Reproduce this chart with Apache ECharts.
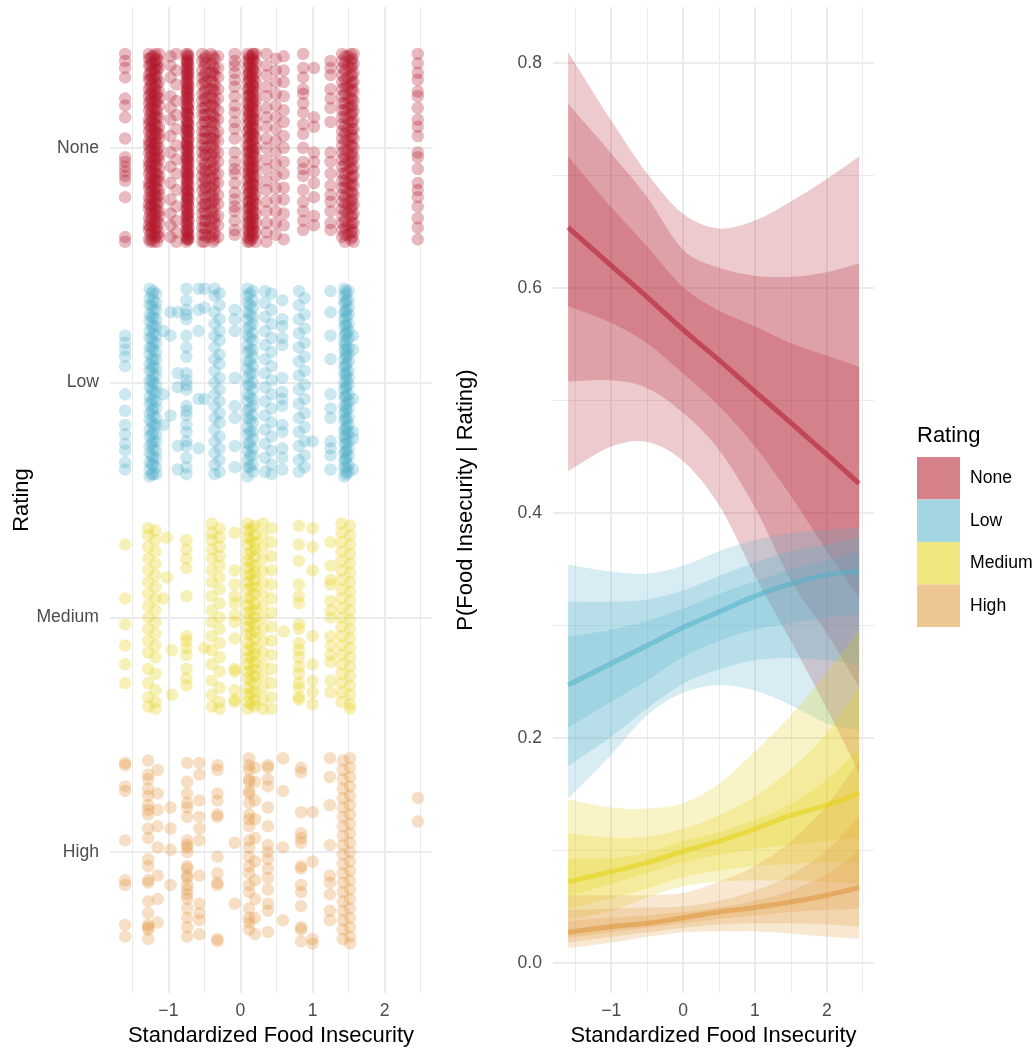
<!DOCTYPE html>
<html><head><meta charset="utf-8">
<script src="https://cdn.jsdelivr.net/npm/echarts@6/dist/echarts.min.js"></script>
<style>html,body{margin:0;padding:0;background:#fff}#c{width:1035px;height:1048px}</style>
</head><body><div id="c"></div><script>
// ---------- data ----------
const ratingLevels = ['High', 'Medium', 'Low', 'None']; // rating positions 1..4 on the left panel
const xTickValues = [-1, 0, 1, 2];
const xMinorValues = [-1.5, -0.5, 0.5, 1.5, 2.5];
const pTickValues = [0, 0.2, 0.4, 0.6, 0.8];
const pMinorValues = [0.1, 0.3, 0.5, 0.7];

// jittered observations: [food insecurity, [vertical jitter in hundredths of a rating step]]
const obsNone = [
  [-1.60, [40,37,34,30,21,18,13,4,-4,-6,-8,-10,-12,-14,-21,-38,-40]],
  [-1.27, [40,38,35,31,29,25,22,19,16,12,10,7,3,1,-2,-6,-8,-11,-15,-17,-21,-24,-26,-30,-33,-35,-39]],
  [-1.25, [38,35,32,29,26,23,20,17,14,11,8,5,2,-1,-4,-7,-10,-13,-16,-19,-22,-25,-28,-31,-34,-37,-40]],
  [-1.23, [39,36,33,30,27,24,21,18,15,12,9,6,3,0,-3,-6,-9,-12,-15,-18,-21,-24,-27,-30,-33,-36,-39]],
  [-1.20, [39,36,33,30,26,23,20,17,14,11,8,5,2,-1,-4,-7,-10,-13,-16,-19,-22,-25,-28,-31,-34,-37,-40]],
  [-1.18, [40,37,34,31,28,25,22,19,16,13,10,7,4,1,-2,-5,-8,-11,-14,-17,-20,-23,-26,-29,-32,-35,-38]],
  [-1.16, [38,35,33,30,27,23,20,16,13,9,6,2,-1,-4,-7,-11,-14,-17,-21,-24,-27,-31,-34,-37,-40]],
  [-1.13, [40,37,34,28,24,21,18,13,9,6,4,0,-3,-5,-9,-12,-14,-18,-20,-23,-27,-29,-32,-36,-38]],
  [-0.97, [39,35,30,22,17,12,5,-2,-8,-15,-22,-28,-33,-38]],
  [-0.89, [40,33,27,20,14,8,1,-5,-11,-18,-25,-31,-36,-40]],
  [-0.75, [40,37,34,31,28,24,21,18,15,12,9,6,2,-1,-4,-7,-10,-14,-17,-20,-23,-26,-29,-32,-35,-38,-40]],
  [-0.74, [39,36,32,29,25,22,18,15,11,8,5,1,-2,-5,-9,-12,-16,-19,-22,-26,-29,-33,-36,-39]],
  [-0.735, [38,36,33,30,27,25,23,20,17,14,11,8,5,3,1,-2,-5,-8,-11,-13,-15,-18,-21,-24,-27,-30,-33,-36,-39]],
  [-0.73, [40,37,34,31,27,24,21,17,14,10,7,3,0,-4,-7,-11,-14,-18,-21,-24,-28,-31,-35,-38]],
  [-0.72, [39,35,32,29,26,22,19,16,13,10,7,4,0,-3,-6,-9,-12,-16,-19,-22,-25,-28,-31,-34,-37,-39]],
  [-0.53, [40,37,33,30,27,23,20,17,14,10,7,4,1,-2,-5,-9,-12,-15,-18,-22,-25,-28,-31,-34,-37,-40]],
  [-0.50, [38,35,31,28,24,21,17,14,11,7,4,0,-3,-7,-10,-13,-17,-20,-24,-27,-31,-34,-37,-40]],
  [-0.48, [39,36,32,28,25,21,18,14,11,7,4,0,-3,-7,-10,-14,-17,-21,-24,-28,-31,-35,-38]],
  [-0.41, [40,36,32,29,25,22,18,15,11,8,4,1,-3,-6,-10,-13,-17,-20,-24,-27,-31,-34,-38]],
  [-0.38, [39,35,32,28,25,21,18,14,11,7,4,1,-2,-6,-9,-13,-16,-20,-23,-27,-30,-34,-37,-40]],
  [-0.36, [38,34,31,27,24,20,17,13,10,6,3,-1,-4,-8,-11,-15,-18,-22,-25,-29,-32,-36,-39]],
  [-0.31, [39,34,30,25,21,16,12,7,3,-2,-6,-11,-15,-20,-24,-29,-33,-38]],
  [-0.08, [40,37,35,32,29,26,22,18,15,11,8,4,-2,-6,-9,-11,-15,-19,-22,-25,-27,-31,-35,-37]],
  [0.10, [40,37,34,31,28,25,22,19,16,13,10,7,4,1,-2,-5,-8,-11,-14,-17,-20,-23,-26,-29,-32,-35,-38,-40]],
  [0.12, [39,36,32,29,25,22,18,15,12,8,5,1,-2,-6,-9,-12,-16,-19,-23,-26,-30,-33,-36,-39]],
  [0.13, [38,35,32,29,26,23,20,17,14,11,8,5,2,-1,-4,-7,-10,-13,-16,-19,-22,-25,-28,-31,-34,-37,-40]],
  [0.16, [39,36,33,30,27,24,21,18,15,12,9,6,3,0,-3,-6,-9,-12,-15,-18,-21,-24,-27,-30,-33,-36,-39]],
  [0.17, [40,38,34,31,27,24,20,17,13,10,6,3,-1,-4,-8,-11,-15,-18,-22,-25,-29,-32,-35,-38]],
  [0.18, [40,37,33,29,26,22,19,15,12,8,5,1,-2,-6,-9,-13,-16,-20,-23,-27,-30,-34,-37]],
  [0.21, [40,36,32,28,24,20,16,12,8,4,0,-4,-8,-12,-16,-20,-24,-28,-32,-36,-40]],
  [0.36, [40,35,31,26,22,17,13,9,4,0,-5,-9,-14,-18,-23,-27,-32,-36,-40]],
  [0.49, [38,33,28,23,18,13,8,3,-2,-7,-12,-17,-22,-27,-32,-37]],
  [0.60, [39,33,28,22,16,11,5,0,-6,-11,-17,-22,-28,-33,-39]],
  [0.87, [40,34,30,25,23,19,15,10,6,0,-6,-9,-12,-18,-23,-27,-31,-35]],
  [1.02, [34,13,9,-2,-6,-10,-15,-21,-29,-33]],
  [1.25, [37,34,31,25,21,17,11,-2,-6,-11,-16,-20,-23,-27,-32,-35]],
  [1.41, [40,37,34,31,28,25,22,19,16,13,10,7,4,1,-2,-5,-8,-11,-14,-17,-20,-23,-26,-29,-32,-35,-38]],
  [1.45, [39,36,33,29,26,23,19,16,13,9,6,3,-1,-4,-7,-11,-14,-17,-21,-24,-27,-31,-34,-37,-40]],
  [1.49, [39,35,30,26,21,17,12,8,3,-1,-6,-10,-15,-19,-24,-28,-33,-37]],
  [1.53, [40,37,34,31,27,24,21,17,14,11,7,4,1,-3,-6,-9,-13,-16,-19,-23,-26,-29,-33,-36,-39]],
  [1.55, [38,35,31,28,25,21,18,15,11,8,5,1,-2,-5,-9,-12,-15,-19,-22,-25,-29,-32,-35,-38]],
  [1.57, [40,36,32,28,24,20,16,12,8,4,0,-4,-8,-12,-16,-20,-24,-28,-32,-36,-40]],
  [2.46, [40,36,32,29,24,22,17,12,9,5,-2,-4,-9,-15,-18,-21,-25,-30,-34,-39]]
];
const obsLow = [
  [-1.60, [20,17,14,11,7,-5,-12,-18,-22,-26,-29,-34,-37]],
  [-1.26, [40,36,33,29,26,22,19,15,12,8,5,1,-2,-6,-9,-13,-16,-20,-23,-27,-30,-34,-37,-40]],
  [-1.23, [38,33,28,24,19,15,10,6,1,-3,-8,-12,-17,-22,-26,-31,-35,-39]],
  [-1.21, [39,35,31,28,24,21,17,14,10,7,3,0,-4,-7,-11,-14,-18,-21,-25,-28,-32,-35,-39]],
  [-1.17, [38,34,31,27,24,20,17,13,10,6,3,-1,-4,-8,-11,-15,-18,-22,-25,-29,-32,-36,-39]],
  [-1.07, [22,-5,-18]],
  [-0.97, [30,20,-14]],
  [-0.87, [30,4,-2,-27,-37]],
  [-0.75, [40,35,31,29,27,20,15,11,4,1,-1,-3,-10,-12,-14,-18,-21,-25,-27,-32,-36,-39]],
  [-0.58, [40,31,22,-7,-28]],
  [-0.50, [40,32,-7]],
  [-0.36, [40,37,30,25,20,15,10,5,0,-5,-10,-15,-20,-25,-30,-35,-39]],
  [-0.29, [38,33,27,22,18,12,8,2,-3,-8,-13,-17,-23,-28,-33,-38]],
  [-0.08, [31,27,22,2,-10,-15,-27,-36]],
  [0.10, [40,37,34,30,27,23,20,16,13,9,6,2,-1,-5,-8,-12,-15,-19,-22,-26,-29,-33,-36,-40]],
  [0.13, [38,33,29,24,19,14,9,4,-1,-6,-11,-16,-21,-26,-31,-36]],
  [0.17, [39,35,32,28,25,21,18,14,11,7,4,0,-3,-7,-10,-14,-17,-21,-24,-28,-31,-35,-38]],
  [0.34, [39,34,28,22,16,10,4,-2,-8,-14,-20,-26,-32,-38]],
  [0.43, [38,31,25,19,13,7,1,-5,-11,-17,-23,-29,-35,-39]],
  [0.58, [35,27,24,19,16,2,-4,-7,-10,-18,-21,-28,-32,-37]],
  [0.81, [39,33,27,21,15,9,3,-3,-9,-15,-21,-27,-33,-38]],
  [0.89, [36,29,23,17,11,5,-1,-7,-13,-19,-25,-31,-36]],
  [1.00, [-25]],
  [1.25, [39,30,20,10,-5,-11,-15,-25,-28,-31,-37]],
  [1.44, [40,37,34,30,27,24,20,17,14,10,7,4,0,-3,-6,-10,-13,-16,-20,-23,-26,-30,-33,-36,-40]],
  [1.46, [39,34,30,25,21,16,12,7,3,-2,-6,-11,-15,-20,-24,-29,-33,-38]],
  [1.47, [38,35,31,28,24,21,18,14,11,8,4,1,-2,-6,-9,-12,-16,-19,-22,-26,-29,-32,-36,-39]],
  [1.50, [39,35,32,29,25,22,19,15,12,9,5,2,-1,-5,-8,-11,-15,-18,-21,-25,-28,-31,-35,-38]],
  [1.56, [20,14,-7,-21,-24,-37]]
];
const obsMedium = [
  [-1.60, [31,8,-3,-12,-20,-28]],
  [-1.28, [38,35,30,25,20,15,10,5,0,-5,-10,-15,-22,-28,-34,-38]],
  [-1.18, [37,33,28,23,18,13,8,3,-2,-7,-12,-17,-24,-31,-36,-39]],
  [-1.07, [8]],
  [-1.02, [34,17]],
  [-0.95, [-14,-33]],
  [-0.75, [33,29,25,21,9,-8,-10,-13,-16,-22,-26,-29]],
  [-0.50, [-13]],
  [-0.40, [40,36,33,29,25,20,15,9,3,-2,-8,-14,-20,-27,-33,-38]],
  [-0.29, [38,34,30,26,22,17,12,6,0,-5,-11,-17,-23,-30,-36,-39]],
  [-0.08, [36,20,14,9,6,1,-2,-9,-22,-23,-31,-35,-36]],
  [0.10, [40,37,34,31,27,24,21,18,15,12,8,5,2,-1,-4,-7,-11,-14,-17,-20,-23,-26,-30,-33,-36,-39]],
  [0.15, [38,33,28,23,18,13,8,3,-2,-7,-12,-17,-22,-27,-32,-37]],
  [0.20, [39,35,32,29,26,22,19,16,13,10,6,3,0,-3,-6,-9,-13,-16,-19,-22,-25,-28,-32,-35,-38]],
  [0.31, [40,35,30,25,20,15,10,5,0,-5,-10,-15,-20,-25,-30,-35,-39]],
  [0.43, [38,32,26,20,14,8,2,-4,-10,-16,-22,-28,-34,-39]],
  [0.60, [-6]],
  [0.81, [39,31,24,14,9,6,-3,-5,-11,-14,-17,-21,-24,-28,-30,-34,-35]],
  [1.00, [38,30,20,-8,-20,-27,-32,-37]],
  [1.25, [32,22,16,14,7,3,0,-8,-12,-16,-19,-27,-32]],
  [1.40, [40,36,32,28,24,20,16,12,8,4,0,-4,-8,-12,-16,-20,-24,-28,-32,-36]],
  [1.52, [39,35,31,27,23,19,15,11,7,3,-1,-5,-9,-13,-17,-21,-25,-29,-33,-37,-39]]
];
const obsHigh = [
  [-1.60, [38,37,28,26,5,-12,-14,-31,-36]],
  [-1.28, [39,33,31,27,24,20,18,16,10,6,-3,-6,-12,-13,-21,-26,-31,-32,-33,-37]],
  [-1.15, [35,25,18,11,2,-10,-20,-30]],
  [-0.97, [19,10,1,-14]],
  [-0.74, [38,30,25,21,19,15,5,3,2,0,-6,-7,-10,-11,-14,-16,-18,-20,-24,-28,-32,-36]],
  [-0.57, [38,33,22,15,10,5,-10,-22,-26,-29,-35]],
  [-0.32, [37,35,25,22,16,15,-2,-9,-13,-14,-37,-38]],
  [-0.08, [4,-22]],
  [0.12, [40,37,35,31,30,26,25,21,16,14,11,5,2,-2,-6,-9,-14,-17,-24,-28,-30,-33]],
  [0.20, [36,30,22,14,6,-4,-12,-20,-28,-35]],
  [0.38, [37,36,31,28,19,11,3,0,-3,-7,-11,-16,-22,-25,-34]],
  [0.59, [40,26,2,-29]],
  [0.84, [36,34,17,8,6,4,-6,-7,-14,-17,-23,-32,-33,-38]],
  [1.00, [17,-4,-37,-39]],
  [1.24, [40,32,20,3,-10,-13,-18,-25,-29]],
  [1.42, [39,35,31,27,23,19,15,11,7,3,-1,-5,-9,-13,-17,-21,-25,-29,-33,-37]],
  [1.52, [40,36,32,28,24,20,16,12,8,4,0,-4,-8,-12,-16,-20,-24,-28,-32,-36,-39]],
  [2.46, [23,13]]
];

// model predictions: x grid, posterior mean and 50/80/95% interval bounds
const predX = [-1.6, -1, -0.5, 0, 0.5, 1, 1.5, 2, 2.45];
const noneHi95 = [0.810,0.749,0.702,0.666,0.653,0.660,0.677,0.697,0.717];
const noneHi80 = [0.764,0.720,0.681,0.634,0.618,0.611,0.610,0.614,0.622];
const noneHi50 = [0.717,0.672,0.637,0.601,0.580,0.566,0.551,0.540,0.530];
const noneMean = [0.654,0.620,0.592,0.563,0.536,0.508,0.480,0.452,0.426];
const noneLo50 = [0.584,0.569,0.551,0.524,0.495,0.459,0.415,0.366,0.325];
const noneLo80 = [0.517,0.518,0.511,0.489,0.456,0.405,0.340,0.293,0.245];
const noneLo95 = [0.437,0.459,0.463,0.446,0.407,0.344,0.286,0.226,0.169];
const lowHi95 = [0.354,0.348,0.346,0.353,0.366,0.376,0.382,0.385,0.387];
const lowHi80 = [0.321,0.321,0.323,0.331,0.344,0.356,0.366,0.372,0.379];
const lowHi50 = [0.290,0.296,0.304,0.315,0.328,0.339,0.350,0.358,0.366];
const lowMean = [0.247,0.266,0.282,0.298,0.312,0.326,0.337,0.345,0.348];
const lowLo50 = [0.209,0.232,0.251,0.272,0.286,0.296,0.302,0.307,0.310];
const lowLo80 = [0.175,0.201,0.226,0.248,0.261,0.269,0.271,0.269,0.264];
const lowLo95 = [0.146,0.185,0.220,0.240,0.247,0.242,0.229,0.213,0.207];
const medHi95 = [0.145,0.138,0.137,0.142,0.159,0.188,0.220,0.258,0.296];
const medHi80 = [0.115,0.111,0.112,0.119,0.131,0.148,0.172,0.204,0.245];
const medHi50 = [0.092,0.093,0.098,0.108,0.116,0.127,0.141,0.163,0.190];
const medMean = [0.072,0.081,0.089,0.099,0.108,0.119,0.131,0.140,0.151];
const medLo50 = [0.059,0.070,0.080,0.089,0.096,0.101,0.105,0.108,0.111];
const medLo80 = [0.048,0.057,0.066,0.076,0.082,0.086,0.088,0.089,0.089];
const medLo95 = [0.038,0.046,0.058,0.068,0.072,0.073,0.073,0.072,0.070];
const highHi95 = [0.060,0.060,0.060,0.062,0.072,0.086,0.108,0.140,0.180];
const highHi80 = [0.047,0.048,0.049,0.050,0.055,0.064,0.078,0.100,0.130];
const highHi50 = [0.037,0.040,0.042,0.045,0.049,0.055,0.064,0.079,0.100];
const highMean = [0.027,0.032,0.035,0.040,0.045,0.049,0.054,0.060,0.067];
const highLo50 = [0.022,0.027,0.031,0.035,0.039,0.042,0.045,0.047,0.048];
const highLo80 = [0.018,0.023,0.027,0.031,0.034,0.035,0.035,0.034,0.032];
const highLo95 = [0.013,0.018,0.023,0.027,0.028,0.028,0.026,0.023,0.021];

// ---------- styling ----------
const FONT = "'Liberation Sans', Arial, Helvetica, sans-serif";
const COL = {None:'#B2182B', Low:'#52B1CA', Medium:'#E3D112', High:'#E0963A'};
const KEY = {None:'#D6818A', Low:'#A3D5E3', Medium:'#F0E67E', High:'#EEC694'};
const XMIN = -1.81, XMAX = 2.657, PMIN = -0.027, PMAX = 0.850;

function rgba(hex, a){
  const n = parseInt(hex.slice(1), 16);
  return 'rgba(' + (n>>16 & 255) + ',' + (n>>8 & 255) + ',' + (n & 255) + ',' + a + ')';
}
function fmtX(v){ return v < 0 ? '\u2212' + Math.abs(v) : String(v); }

function obsPoints(cols, level){
  const out = [];
  cols.forEach(function(c){ c[1].forEach(function(o){ out.push([c[0], level + o/100]); }); });
  return out;
}
function curveTo(p){
  let s = '';
  for (let i = 0; i < p.length - 1; i++){
    const p0 = p[Math.max(i-1,0)], p1 = p[i], p2 = p[i+1], p3 = p[Math.min(i+2,p.length-1)];
    const c1x = p1[0] + (p2[0]-p0[0])/6, c1y = p1[1] + (p2[1]-p0[1])/6;
    const c2x = p2[0] - (p3[0]-p1[0])/6, c2y = p2[1] - (p3[1]-p1[1])/6;
    s += ' C ' + c1x + ' ' + c1y + ' ' + c2x + ' ' + c2y + ' ' + p2[0] + ' ' + p2[1];
  }
  return s;
}
function band(name, lo, hi, color){
  const rows = predX.map(function(x,i){ return [x, lo[i], hi[i]]; });
  return {
    type:'custom', name: name, xAxisIndex:2, yAxisIndex:1, z:3, silent:true, animation:false,
    data: rows, encode:{x:0, y:[1,2]},
    renderItem: function(params, api){
      if (params.dataIndex !== 0) return;
      const up = rows.map(function(r){ return api.coord([r[0], r[2]]); });
      const dn = rows.map(function(r){ return api.coord([r[0], r[1]]); }).reverse();
      const d = 'M ' + up[0][0] + ' ' + up[0][1] + curveTo(up) +
                ' L ' + dn[0][0] + ' ' + dn[0][1] + curveTo(dn) + ' Z';
      return {type:'path', shape:{pathData:d}, style:{fill: rgba(color, 0.23), stroke:null}};
    }
  };
}
function meanLine(name, vals){
  return {
    type:'line', name: name, xAxisIndex:2, yAxisIndex:1, z:6, smooth:true, showSymbol:false,
    animation:false, silent:true,
    data: predX.map(function(x,i){ return [x, vals[i]]; }),
    itemStyle:{color: COL[name]},
    lineStyle:{color: COL[name], width:5, opacity:0.55}
  };
}
function scatter(name, cols, level){
  return {
    type:'scatter', name:'obs ' + name, xAxisIndex:0, yAxisIndex:0, z:2, silent:true, animation:false,
    symbolSize:12.5, large:false, largeThreshold:100000, progressive:0, data: obsPoints(cols, level),
    itemStyle:{color: COL[name], opacity:0.3, borderWidth:0}
  };
}

const tickText = {color:'#4D4D4D', fontSize:17.6, fontFamily:FONT};
const titleText = {color:'#000', fontSize:22, fontFamily:FONT};
const gridMajor = {show:true, lineStyle:{color:'#EBEBEB', width:2}};
const gridMinor = {show:true, lineStyle:{color:'#EBEBEB', width:1}};

function xMajorAxis(g){
  return {type:'value', gridIndex:g, min:XMIN, max:XMAX,
    axisLine:{show:false}, axisTick:{show:false, customValues:xTickValues},
    axisLabel:Object.assign({customValues:xTickValues, formatter:fmtX, margin:9}, tickText),
    splitLine:gridMajor,
    name:'Standardized Food Insecurity', nameLocation:'middle', nameGap:26, nameTextStyle:titleText};
}
function xMinorAxis(g){
  return {type:'value', gridIndex:g, min:XMIN, max:XMAX, position:'bottom',
    axisLine:{show:false}, axisTick:{show:false, customValues:xMinorValues},
    axisLabel:{show:false}, splitLine:gridMinor};
}

const series = [
  scatter('None', obsNone, 4), scatter('Low', obsLow, 3),
  scatter('Medium', obsMedium, 2), scatter('High', obsHigh, 1),
  band('None 95', noneLo95, noneHi95, COL.None), band('None 80', noneLo80, noneHi80, COL.None), band('None 50', noneLo50, noneHi50, COL.None),
  band('Low 95', lowLo95, lowHi95, COL.Low), band('Low 80', lowLo80, lowHi80, COL.Low), band('Low 50', lowLo50, lowHi50, COL.Low),
  band('Medium 95', medLo95, medHi95, COL.Medium), band('Medium 80', medLo80, medHi80, COL.Medium), band('Medium 50', medLo50, medHi50, COL.Medium),
  band('High 95', highLo95, highHi95, COL.High), band('High 80', highLo80, highHi80, COL.High), band('High 50', highLo50, highHi50, COL.High),
  meanLine('None', noneMean), meanLine('Low', lowMean), meanLine('Medium', medMean), meanLine('High', highMean)
];

const option = {
  backgroundColor:'#ffffff',
  animation:false,
  grid:[
    {left:110, top:7, width:322, height:986, outerBoundsMode:'none', containLabel:false},
    {left:553, top:7, width:321, height:986, outerBoundsMode:'none', containLabel:false}
  ],
  xAxis:[ xMajorAxis(0), xMinorAxis(0), xMajorAxis(1), xMinorAxis(1) ],
  yAxis:[
    {type:'value', gridIndex:0, min:0.4, max:4.6,
     axisLine:{show:false}, axisTick:{show:false, customValues:[1,2,3,4]},
     axisLabel:Object.assign({customValues:[1,2,3,4], margin:11,
       formatter:function(v){ return ratingLevels[Math.round(v)-1]; }}, tickText),
     splitLine:gridMajor,
     name:'Rating', nameLocation:'middle', nameGap:75, nameTextStyle:titleText},
    {type:'value', gridIndex:1, min:PMIN, max:PMAX,
     axisLine:{show:false}, axisTick:{show:false, customValues:pTickValues},
     axisLabel:Object.assign({customValues:pTickValues, margin:11,
       formatter:function(v){ return v.toFixed(1); }}, tickText),
     splitLine:gridMajor,
     name:'P(Food Insecurity | Rating)', nameLocation:'middle', nameGap:76, nameTextStyle:titleText},
    {type:'value', gridIndex:1, min:PMIN, max:PMAX, position:'left',
     axisLine:{show:false}, axisTick:{show:false, customValues:pMinorValues},
     axisLabel:{show:false}, splitLine:gridMinor}
  ],
  title:[{text:'Rating', left:917, top:425, padding:0,
          textStyle:{fontSize:22, fontWeight:'normal', color:'#000', fontFamily:FONT}}],
  legend:{orient:'vertical', left:917, top:457, padding:0, itemWidth:43, itemHeight:42.5, itemGap:0,
    icon:'rect', selectedMode:false,
    textStyle:{fontSize:17.6, color:'#000', fontFamily:FONT, padding:[0,0,0,5]},
    data:['None','Low','Medium','High'].map(function(n){
      return {name:n, icon:'rect', itemStyle:{color:KEY[n], opacity:1, borderWidth:0}};
    })},
  series: series
};
const chart = echarts.init(document.getElementById('c'), null, {renderer:'canvas'});
chart.setOption(option);
</script></body></html>
